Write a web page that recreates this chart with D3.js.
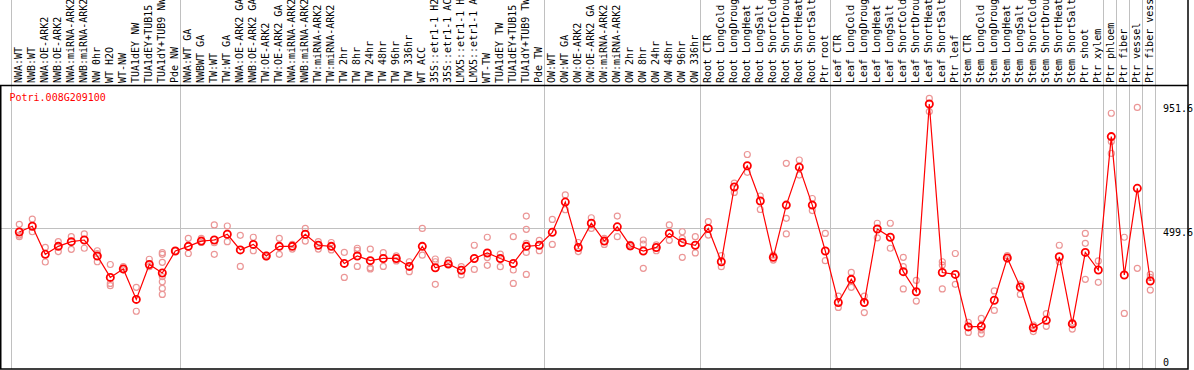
<!DOCTYPE html>
<html lang="en">
<head>
  <meta charset="utf-8" />
  <title>Potri.008G209100 expression</title>
  <style>
    body {
      margin: 0;
      background: #fff;
    }
    text {
      font-family: "DejaVu Sans Mono", monospace;
      font-size: 10px;
    }
    .grid {
      stroke: #c0c0c0;
      stroke-width: 1px;
    }
    .rep {
      fill: none;
      stroke: #eb9696;
      stroke-width: 1.2px;
    }
    .mean-line {
      fill: none;
      stroke: #ff0000;
      stroke-width: 1.2px;
    }
    .mean {
      fill: none;
      stroke: #ff0000;
      stroke-width: 1.8px;
    }
  </style>
</head>
<body>
<script src="https://cdn.jsdelivr.net/npm/d3@7"></script>
<script>
  const geneId = "Potri.008G209100";

  const categories = [
    "NWA:WT", "NWB:WT", "NWA:OE-ARK2", "NWB:OE-ARK2", "NWA:miRNA-ARK2", "NWB:miRNA-ARK2",
    "NW 0hr", "WT H2O", "WT-NW", "TUA1dEY NW", "TUA1dEY+TUB15 NW", "TUA1dY+TUB9 NW", "Pde NW",
    "NWA:WT GA", "NWBWT GA", "TW:WT", "TW:WT GA", "NWA:OE-ARK2 GA", "NWB:OE-ARK2 GA",
    "TW:OE-ARK2", "TW:OE-ARK2 GA", "NWA:miRNA-ARK2", "NWB:miRNA-ARK2", "TW:miRNA-ARK2",
    "TW:miRNA-ARK2", "TW 2hr", "TW 8hr", "TW 24hr", "TW 48hr", "TW 96hr", "TW 336hr",
    "WT ACC", "35S::etr1-1 H2O", "35S::etr1-1 ACC", "LMX5::etr1-1 H2O", "LMX5::etr1-1 ACC",
    "WT-TW", "TUA1dEY TW", "TUA1dEY+TUB15 TW", "TUA1dY+TUB9 TW", "Pde TW",
    "OW:WT", "OW:WT GA", "OW:OE-ARK2", "OW:OE-ARK2 GA", "OW:miRNA-ARK2", "OW:miRNA-ARK2",
    "OW 2hr", "OW 8hr", "OW 24hr", "OW 48hr", "OW 96hr", "OW 336hr",
    "Root CTR", "Root LongCold", "Root LongDrought", "Root LongHeat", "Root LongSalt",
    "Root ShortCold", "Root ShortDrought", "Root ShortHeat", "Root ShortSalt", "Ptr root",
    "Leaf CTR", "Leaf LongCold", "Leaf LongDrought", "Leaf LongHeat", "Leaf LongSalt",
    "Leaf ShortCold", "Leaf ShortDrought", "Leaf ShortHeat", "Leaf ShortSalt", "Ptr leaf",
    "Stem CTR", "Stem LongCold", "Stem LongDrought", "Stem LongHeat", "Stem LongSalt",
    "Stem ShortCold", "Stem ShortDrought", "Stem ShortHeat", "Stem ShortSalt", "Ptr shoot",
    "Ptr xylem", "Ptr phloem", "Ptr fiber", "Ptr vessel", "Ptr fiber vessel"
  ];

  // mean expression per sample
  const means = [
    486, 507, 405, 434, 451, 457, 399, 321, 352, 241, 368, 337, 417,
    434, 453, 457, 478, 421, 441, 399, 434, 434, 478, 438, 434, 372, 399, 382, 390, 390, 361,
    434, 356, 370, 347, 390, 410, 390, 372, 434, 438,
    485, 595, 430, 518, 453, 505, 436, 417, 430, 481, 448, 438,
    499, 378, 650, 727, 599, 394, 584, 722, 584, 417,
    230, 314, 230, 497, 467, 342, 269, 951.6, 339, 332,
    141, 143, 238, 392, 286, 138, 165, 396, 152, 412,
    348, 833, 330, 645, 308
  ];

  // individual replicates per sample
  const replicates = [
    [514, 475, 469], [533, 487], [430, 377], [451, 415], [469, 423], [479, 427],
    [418, 408, 378], [368, 299, 291], [360, 348], [285, 198], [387, 360],
    [411, 405, 376, 324, 305, 281, 259], [417],
    [463, 408], [463, 448], [512, 447, 405], [508, 451], [474, 361], [467, 418],
    [402, 396], [463, 405], [441, 424], [499, 453], [451, 424], [448, 421],
    [412, 321], [427, 419, 361], [424, 356, 352], [411, 361], [399, 381], [378, 342],
    [499, 402], [388, 378, 296], [384, 372], [360, 330], [438, 350], [467, 393, 365],
    [406, 360], [469, 348, 299], [544, 496, 445, 412, 332], [456, 418],
    [532, 441], [621, 567], [448, 415], [538, 499], [463, 441], [544, 469],
    [441, 432], [457, 442, 354], [439, 418], [512, 456], [487, 463, 394], [469, 410],
    [524, 475], [400, 360], [664, 630], [768, 703], [617, 568], [402, 384],
    [736, 536, 479], [748, 693], [608, 564], [481, 382],
    [253, 212], [339, 285], [253, 193], [518, 465], [518, 427], [394, 360, 279],
    [310, 235], [972, 924], [378, 366, 279], [408, 296],
    [158, 121], [172, 130, 116], [272, 201], [400, 388], [297, 259], [148, 124],
    [189, 143], [438, 378], [158, 133], [481, 445, 314],
    [381, 303], [918, 815, 772], [467, 190], [939, 354], [332, 321, 275]
  ];

  // first sample of each group (vertical separators)
  const groupStarts = [0, 13, 41, 53, 63, 73, 84, 85, 86, 87, 88];
  const yTicks = [951.6, 499.6, 0];

  const width = 1194;
  const height = 370;
  const plotTop = 85;
  const plotBottom = 369;
  const plotRight = 1188;

  const svg = d3.select("body")
    .append("svg")
    .attr("width", width)
    .attr("height", height);

  const x = d3.scaleLinear()
    .domain([0, categories.length - 1])
    .range([19.3, 1150.3]);

  const y = d3.scaleLinear()
    .domain([0, d3.max(means)])
    .range([365.7, 104]);

  // vertical separators, full height
  svg.selectAll("line.sep")
    .data(groupStarts)
    .join("line")
    .attr("class", "grid sep")
    .attr("x1", d => Math.round(x(d) - 8) + 0.5)
    .attr("x2", d => Math.round(x(d) - 8) + 0.5)
    .attr("y1", 0)
    .attr("y2", plotBottom);

  // horizontal reference line
  svg.append("line")
    .attr("class", "grid")
    .attr("x1", 0)
    .attr("x2", plotRight)
    .attr("y1", Math.round(y(yTicks[1])) + 0.5)
    .attr("y2", Math.round(y(yTicks[1])) + 0.5);

  // frame
  svg.append("rect")
    .attr("x", 0.75)
    .attr("y", plotTop + 0.5)
    .attr("width", plotRight - 0.75)
    .attr("height", plotBottom - plotTop - 0.5)
    .attr("fill", "none")
    .attr("stroke", "#000")
    .attr("stroke-width", 1.5);

  svg.append("line")
    .attr("x1", plotRight).attr("x2", plotRight)
    .attr("y1", 0).attr("y2", plotTop)
    .attr("stroke", "#000")
    .attr("stroke-width", 1.5);

  // sample names, rotated
  svg.selectAll("text.cat")
    .data(categories)
    .join("text")
    .attr("class", "cat")
    .attr("transform", (d, i) => `translate(${x(i) + 2.2},83) rotate(-90)`)
    .attr("fill", "#000")
    .text(d => d);

  // replicates
  const reps = replicates.flatMap((vals, i) => vals.map(v => ({i, v})));
  svg.selectAll("circle.rep")
    .data(reps)
    .join("circle")
    .attr("class", "rep")
    .attr("cx", d => x(d.i))
    .attr("cy", d => y(d.v))
    .attr("r", 3);

  // mean line
  const line = d3.line()
    .x((d, i) => x(i))
    .y(d => y(d));

  svg.append("path")
    .datum(means)
    .attr("class", "mean-line")
    .attr("d", line);

  svg.selectAll("circle.mean")
    .data(means)
    .join("circle")
    .attr("class", "mean")
    .attr("cx", (d, i) => x(i))
    .attr("cy", d => y(d))
    .attr("r", 3.6);

  // y labels on the right
  svg.selectAll("text.ytick")
    .data(yTicks)
    .join("text")
    .attr("class", "ytick")
    .attr("x", 1163)
    .attr("y", d => d === 0 ? 366 : y(d) + 8)
    .attr("fill", "#000")
    .text(d => d);

  svg.append("text")
    .attr("x", 9.5)
    .attr("y", 101)
    .attr("fill", "#ff0000")
    .text(geneId);
</script>
</body>
</html>
